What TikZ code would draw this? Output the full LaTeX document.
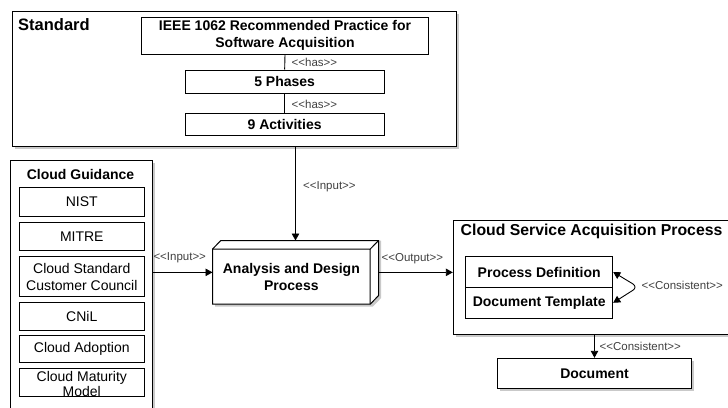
\documentclass[tikz,border=0pt]{standalone}
\usepackage{fontspec}
\setmainfont{Liberation Sans}
\usetikzlibrary{arrows.meta,shadows,calc}

\begin{document}
\begin{tikzpicture}[x=1pt,y=-1pt,
  box/.style={draw, line width=1pt, fill=white, inner sep=0pt, align=center},
  shade/.style={drop shadow={shadow xshift=2.5pt,shadow yshift=-2.5pt,opacity=0.3,fill=black!70}},
  btext/.style={font=\fontsize{14}{17}\selectfont\bfseries},
  rtext/.style={font=\fontsize{14}{16.7}\selectfont},
  lab/.style={font=\fontsize{11.5}{13}\selectfont, text=black!75, inner sep=0pt, anchor=west},
  arr/.style={-{Triangle[length=7pt,width=7.5pt]}, line width=0.9pt},
  link/.style={line width=0.9pt},
]
\useasboundingbox (0,0) rectangle (728,407);

% ---- Standard group ----
\node[box, shade, minimum width=443.3, minimum height=135] (Std) at (234.35,79.2) {};
\node[anchor=west, inner sep=0pt, font=\fontsize{16.5}{19}\selectfont\bfseries] (StdT) at (18,25) {Standard};
\node[box, btext, minimum width=286.6, minimum height=36.7] (ieee) at (285,35.65)
  {IEEE 1062 Recommended Practice for\\Software Acquisition};
\node[box, btext, minimum width=199.3, minimum height=23.3] (phases) at (284.65,81.65) {5 Phases};
\node[box, btext, minimum width=199.3, minimum height=21.7] (acts) at (284.65,124.15) {9 Activities};
\draw[link] (ieee.south) -- (phases.north);
\draw[link] (phases.south) -- (acts.north);
\node[lab] (has1) at (291.5,62) {<{}<has>{}>};
\node[lab] (has2) at (291.5,104) {<{}<has>{}>};

% ---- Cloud Guidance group ----
\node[box, shade, minimum width=141.6, minimum height=262] (CG) at (81.5,291) {};
\node[btext, inner sep=0pt] (CGT) at (80.5,174) {Cloud Guidance};
\node[box, rtext, minimum width=125, minimum height=29.4] (nist) at (81.8,202) {NIST};
\node[box, rtext, minimum width=125, minimum height=27.3] (mitre) at (81.8,236.35) {MITRE};
\node[box, rtext, minimum width=125, minimum height=40] (cscc) at (81.8,276.7) {Cloud Standard\\Customer Council};
\node[box, rtext, minimum width=125, minimum height=27.7] (cnil) at (81.8,316.15) {CNiL};
\node[box, rtext, minimum width=125, minimum height=27.3] (adopt) at (81.8,348.65) {Cloud Adoption};
\node[box, minimum width=125, minimum height=27.7] (matur) at (81.8,382.15) {};
\node[rtext, align=center, inner sep=0pt] (maturT) at (81.8,384.3) {Cloud Maturity\\[-1.5pt]Model};

% ---- Analysis and Design process (3D box) ----
\node[minimum width=165.6, minimum height=63.3, inner sep=0pt] (AD) at (295.5,272.35) {};
\fill[black!70, opacity=0.3]
  ($(AD.south west)+(2.5,2.5)$) -- ($(AD.north west)+(2.5,11.1)$) -- ($(AD.north west)+(10.8,0)$)
  -- ($(AD.north east)+(2.5,0)$) -- ($(AD.south east)+(2.5,-6)$) -- ($(AD.south east)+(-5.8,2.5)$) -- cycle;
\filldraw[fill=white, line width=1pt]
  (AD.south west) -- ($(AD.north west)+(0,8.6)$) -- ($(AD.north west)+(8.3,0)$) -- (AD.north east)
  -- ($(AD.south east)+(0,-8.6)$) -- ($(AD.south east)+(-8.3,0)$) -- cycle;
\draw[line width=1pt] ($(AD.north west)+(0,8.6)$) -- ($(AD.north east)+(-8.3,8.6)$) -- (AD.north east)
  ($(AD.north east)+(-8.3,8.6)$) -- ($(AD.south east)+(-8.3,0)$);
\node[btext, align=center, inner sep=0pt] (ADT) at (291.35,276.65) {Analysis and Design\\Process};

% ---- Cloud Service Acquisition Process group ----
\node[box, shade, minimum width=286.7, minimum height=114] (CSAP) at (596.65,277) {};
\node[anchor=west, inner sep=0pt, font=\fontsize{15.8}{19}\selectfont\bfseries] (CSAPT) at (460.5,231.7)
  {Cloud Service Acquisition Process};
\node[box, btext, minimum width=147, minimum height=30.6] (pd) at (539.2,272) {Process Definition};
\node[box, btext, minimum width=147, minimum height=31] (dt) at (539.2,302.8) {Document Template};
\coordinate (apex) at (638,287);
\draw[link, {Triangle[length=7pt,width=7.5pt]}-{Triangle[length=7pt,width=7.5pt]}, rounded corners=6pt]
  (pd.east) -- (apex) -- (dt.east);
\node[lab] (cons1) at (641.5,285) {<{}<Consistent>{}>};

\node[box, shade, btext, minimum width=194.4, minimum height=30] (doc) at (594.5,373.3) {Document};
\draw[arr] (doc.north |- CSAP.south) -- (doc.north);
\node[lab] (cons2) at (599.5,346.7) {<{}<Consistent>{}>};

% ---- connectors into and out of the analysis process ----
\draw[arr] (AD.north |- Std.south) -- (AD.north);
\node[lab] (in1) at (303,186.7) {<{}<Input>{}>};
\draw[arr] (CG.east |- AD.west) -- (AD.west);
\node[lab] (in2) at (153.3,257.3) {<{}<Input>{}>};
\draw[arr] (AD.east) -- (CSAP.west |- AD.east);
\node[lab] (out) at (381.5,259) {<{}<Output>{}>};
\end{tikzpicture}
\end{document}
